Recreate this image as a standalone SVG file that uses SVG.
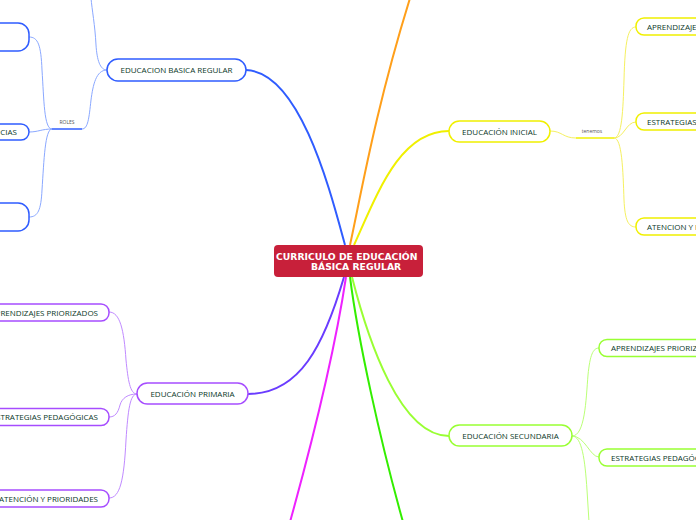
<svg xmlns="http://www.w3.org/2000/svg" width="696" height="520" viewBox="0 0 696 520">
<style>
.t{font-family:"Open Sans","Noto Sans",sans-serif;font-size:8px;fill:#0a3828}
.s{font-family:"Open Sans","Noto Sans",sans-serif;font-size:5px;fill:#555}
.c{font-family:"DejaVu Sans",sans-serif;font-size:9.25px;font-weight:bold;fill:#fff}
.n{fill:#fff;stroke-width:1.5}
.m{fill:none;stroke-width:2}
.b{fill:none;stroke-width:1}
</style>
<rect width="696" height="520" fill="#fff"/>
<g id="connectors">
<path class="m" stroke="#2f5cff" d="M345,245 C330,190 300,72 246,70"/>
<path class="m" stroke="#ff9f1a" d="M350,245 C360,200 375,110 411,-5"/>
<path class="m" stroke="#f0f000" d="M354,245 C378,192 400,131 449,131"/>
<path class="m" stroke="#6a3cff" d="M344,277 C324,345 300,394 248,394"/>
<path class="m" stroke="#ee22ff" d="M346,277 C335,350 310,450 290,522"/>
<path class="m" stroke="#33ee00" d="M350,277 C358,340 380,440 403,522"/>
<path class="m" stroke="#99ff33" d="M352,277 C368,340 400,436 449,436"/>
<path class="b" stroke="#8aa8ff" d="M107,70 C100,70 97,60 96,45 C95,25 92,10 91,-2"/>
<path class="b" stroke="#8aa8ff" d="M107,70 C96,70 93,85 91,100 C89,118 88,129 82,129"/>
<path stroke="#2f5cff" stroke-width="1.5" d="M52,129 L82,129"/>
<path class="b" stroke="#8aa8ff" d="M52,129 C44,129 44,100 42,70 C41,45 38,37 29,37"/>
<path class="b" stroke="#8aa8ff" d="M52,129 C42,129 38,132 29,132"/>
<path class="b" stroke="#8aa8ff" d="M52,129 C45,129 44,160 42,190 C41,210 38,217 29,217"/>
<path class="b" stroke="#f5f060" d="M550,131 C562,131 563,138 576,138"/>
<path stroke="#f0f000" stroke-width="1.5" d="M576,138 L614,138"/>
<path class="b" stroke="#f5f060" d="M614,138 C622,138 623,110 624,80 C625,40 628,27 636,27"/>
<path class="b" stroke="#f5f060" d="M614,138 C624,138 626,122 636,122"/>
<path class="b" stroke="#f5f060" d="M614,138 C622,138 623,170 624,200 C625,220 628,227 636,227"/>
<path class="b" stroke="#c08aff" d="M137,394 C130,394 128,380 126,360 C124,330 120,312 109,312"/>
<path class="b" stroke="#c08aff" d="M137,394 C128,394 122,398 120,405 C118,413 115,417 109,417"/>
<path class="b" stroke="#c08aff" d="M137,394 C130,394 128,410 126,440 C124,480 120,498 109,498"/>
<path class="b" stroke="#bbff77" d="M572,436 C585,436 586,400 588,375 C590,355 593,348 599,348"/>
<path class="b" stroke="#bbff77" d="M572,436 C585,436 590,457 599,457"/>
<path class="b" stroke="#bbff77" d="M572,436 C582,436 585,460 587,490 L589,522"/>
</g>
<g id="center">
<rect x="274" y="245" width="149" height="32" rx="4" fill="#c8203a"/>
<text class="c" x="276" y="259.5">CURRICULO DE EDUCACIÓN</text>
<text class="c" x="311" y="269.5">BÁSICA REGULAR</text>
</g>
<g id="basica">
<rect class="n" stroke="#2f5cff" x="107" y="59" width="139" height="22" rx="11"/>
<text class="t" x="176.5" y="73" text-anchor="middle">EDUCACION BASICA REGULAR</text>
</g>
<g id="roles"><text class="s" x="67" y="124" text-anchor="middle">ROLES</text></g>
<g id="rol1"><rect class="n" stroke="#2f5cff" x="-60" y="23" width="89" height="28" rx="11"/></g>
<g id="rol2"><rect class="n" stroke="#2f5cff" x="-60" y="124" width="89" height="16" rx="8"/>
<text class="t" x="17" y="135" text-anchor="end">NCIAS</text></g>
<g id="rol3"><rect class="n" stroke="#2f5cff" x="-60" y="203" width="89" height="28" rx="11"/></g>
<g id="inicial">
<rect class="n" stroke="#f0f000" x="449" y="121" width="101" height="21" rx="10.5"/>
<text class="t" x="499.5" y="134.5" text-anchor="middle">EDUCACIÓN INICIAL</text>
</g>
<g id="tenemos"><text class="s" x="592" y="133" text-anchor="middle">tenemos</text></g>
<g id="ini1"><rect class="n" stroke="#f0f000" x="636" y="18" width="130" height="17" rx="8"/>
<text class="t" x="647" y="30">APRENDIZAJES PRIORIZADOS</text></g>
<g id="ini2"><rect class="n" stroke="#f0f000" x="636" y="113" width="130" height="17" rx="8"/>
<text class="t" x="647" y="125">ESTRATEGIAS PEDAGÓGICAS</text></g>
<g id="ini3"><rect class="n" stroke="#f0f000" x="636" y="218" width="130" height="17" rx="8"/>
<text class="t" x="647" y="230">ATENCION Y PRIORIDADES</text></g>
<g id="primaria">
<rect class="n" stroke="#a64dff" x="137" y="383" width="111" height="21" rx="10.5"/>
<text class="t" x="192.5" y="396.5" text-anchor="middle">EDUCACIÓN PRIMARIA</text>
</g>
<g id="pri1"><rect class="n" stroke="#a64dff" x="-60" y="304" width="169" height="17" rx="8"/>
<text class="t" x="98" y="315.5" text-anchor="end">APRENDIZAJES PRIORIZADOS</text></g>
<g id="pri2"><rect class="n" stroke="#a64dff" x="-60" y="408.5" width="169" height="17" rx="8"/>
<text class="t" x="98" y="420" text-anchor="end">ESTRATEGIAS PEDAGÓGICAS</text></g>
<g id="pri3"><rect class="n" stroke="#a64dff" x="-60" y="490" width="169" height="17" rx="8"/>
<text class="t" x="98" y="501.5" text-anchor="end">ATENCIÓN Y PRIORIDADES</text></g>
<g id="secundaria">
<rect class="n" stroke="#99ff33" x="449" y="425" width="123" height="21" rx="10.5"/>
<text class="t" x="510.5" y="438.5" text-anchor="middle">EDUCACIÓN SECUNDARIA</text>
</g>
<g id="sec1"><rect class="n" stroke="#99ff33" x="599" y="339.5" width="160" height="17" rx="8"/>
<text class="t" x="611" y="351">APRENDIZAJES PRIORIZADOS</text></g>
<g id="sec2"><rect class="n" stroke="#99ff33" x="599" y="449" width="160" height="17" rx="8"/>
<text class="t" x="611" y="460.5">ESTRATEGIAS PEDAGÓGICAS</text></g>
</svg>
